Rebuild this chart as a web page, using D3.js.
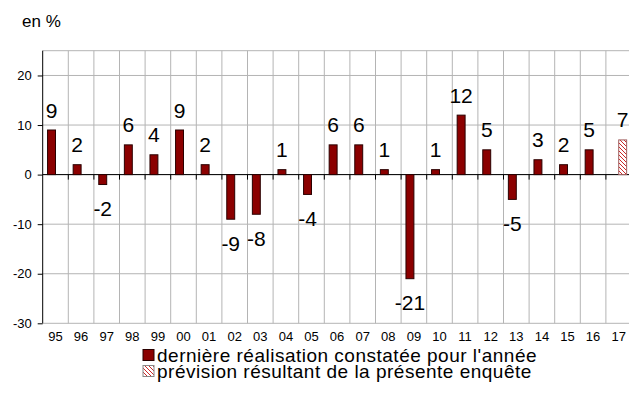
<!DOCTYPE html>
<html>
<head>
<meta charset="utf-8">
<script src="https://cdn.jsdelivr.net/npm/d3@7"></script>
<style>
  html, body { margin: 0; padding: 0; background: #fff; }
  svg { display: block; font-family: "Liberation Sans", Arial, sans-serif; }
</style>
</head>
<body>
<svg id="chart" width="629" height="416"></svg>
<script>
// ---- data ----
const years = ["95","96","97","98","99","00","01","02","03","04","05","06","07","08","09","10","11","12","13","14","15","16","17"];
const realised = [9, 2, -2, 6, 4, 9, 2, -9, -8, 1, -4, 6, 6, 1, -21, 1, 12, 5, -5, 3, 2, 5, null];
const forecast = [null, null, null, null, null, null, null, null, null, null, null, null, null, null, null, null, null, null, null, null, null, null, 7];
const yTicks = [-30, -20, -10, 0, 10, 20];
const seriesNames = ["dernière réalisation constatée pour l'année", "prévision résultant de la présente enquête"];
const unitLabel = "en %";

// ---- layout ----
const svg = d3.select("#chart");
const plotL = 42.7, plotR = 631.5, plotT = 50.7, plotB = 323.3;

const x = d3.scaleBand().domain(years).range([plotL, plotR]).padding(0);
const inner = d3.scaleBand().domain(["r", "p"]).range([x.bandwidth() * 0.19, x.bandwidth() * 0.81]).padding(0);
const y = d3.scaleLinear().domain([-30, 25]).range([plotB, plotT]);

const defs = svg.append("defs");
const pat = defs.append("pattern").attr("id", "hatch").attr("patternUnits", "userSpaceOnUse")
  .attr("width", 4).attr("height", 4);
pat.append("rect").attr("width", 4).attr("height", 4).attr("fill", "#fff");
pat.append("path").attr("d", "M-1,-1 L5,5 M-1,3 L1,5 M3,-1 L5,1").attr("stroke", "#cc2a2a").attr("stroke-width", 1);

const grid = "#b4b4b4";
// horizontal gridlines
svg.append("g").selectAll("line").data(yTicks.concat([25])).join("line")
  .attr("x1", plotL).attr("x2", plotR).attr("y1", d => y(d)).attr("y2", d => y(d))
  .attr("stroke", grid).attr("stroke-width", 1);
// vertical gridlines at category boundaries
svg.append("g").selectAll("line").data(years.slice(1)).join("line")
  .attr("x1", d => x(d)).attr("x2", d => x(d)).attr("y1", plotT).attr("y2", plotB)
  .attr("stroke", grid).attr("stroke-width", 1);

// y axis
const yAxis = d3.axisLeft(y).tickValues(yTicks).tickSize(5).tickPadding(6).tickFormat(d => String(d));
const gy = svg.append("g").attr("transform", `translate(${plotL},0)`).call(yAxis);
gy.select(".domain").attr("d", `M0,${plotT}V${plotB}`).attr("stroke", "#000");
gy.selectAll(".tick line").attr("stroke", "#000");
gy.selectAll(".tick text").attr("font-size", 13).attr("font-family", "Liberation Sans, Arial, sans-serif").attr("fill", "#000");

// zero axis with downward ticks at category boundaries
svg.append("line").attr("x1", plotL).attr("x2", plotR).attr("y1", y(0)).attr("y2", y(0)).attr("stroke", "#000");
svg.append("g").selectAll("line").data(years.slice(1)).join("line")
  .attr("x1", d => x(d)).attr("x2", d => x(d)).attr("y1", y(0)).attr("y2", y(0) + 5).attr("stroke", "#000");

// x labels
svg.append("g").selectAll("text").data(years).join("text")
  .attr("x", d => x(d) + x.bandwidth() / 2).attr("y", plotB + 18)
  .attr("text-anchor", "middle").attr("font-size", 13).text(d => d);

// bars
const rows = years.map((yr, i) => ({ yr, r: realised[i], p: forecast[i] }));
function drawSeries(key, fill, stroke) {
  const data = rows.filter(d => d[key] !== null);
  svg.append("g").selectAll("rect").data(data).join("rect")
    .attr("x", d => x(d.yr) + inner(key))
    .attr("width", inner.bandwidth())
    .attr("y", d => y(Math.max(0, d[key])))
    .attr("height", d => Math.abs(y(d[key]) - y(0)))
    .attr("fill", fill).attr("stroke", stroke).attr("stroke-width", 1);
  svg.append("g").selectAll("text").data(data).join("text")
    .attr("x", d => x(d.yr) + inner(key) + inner.bandwidth() / 2)
    .attr("y", d => d[key] >= 0 ? y(d[key]) - 12.5 : y(d[key]) + 31.5)
    .attr("text-anchor", "middle").attr("font-size", 21).attr("fill", "#000")
    .text(d => String(d[key]));
}
drawSeries("r", "#8b0000", "#2a0000");
drawSeries("p", "url(#hatch)", "#a06060");

// unit label
svg.append("text").attr("x", 22).attr("y", 27).attr("font-size", 17).text(unitLabel);

// legend
const lg = svg.append("g").attr("transform", "translate(143,0)");
const lgY = [355, 371];
lg.selectAll("rect").data(seriesNames).join("rect")
  .attr("x", 0).attr("y", (d, i) => lgY[i] - 5.5).attr("width", 11).attr("height", 11)
  .attr("fill", (d, i) => i === 0 ? "#8b0000" : "url(#hatch)")
  .attr("stroke", (d, i) => i === 0 ? "#2a0000" : "#888");
lg.selectAll("text").data(seriesNames).join("text")
  .attr("x", 14).attr("y", (d, i) => lgY[i] + 6.5).attr("font-size", 19)
  .attr("letter-spacing", 0.5).text(d => d);
</script>
</body>
</html>
